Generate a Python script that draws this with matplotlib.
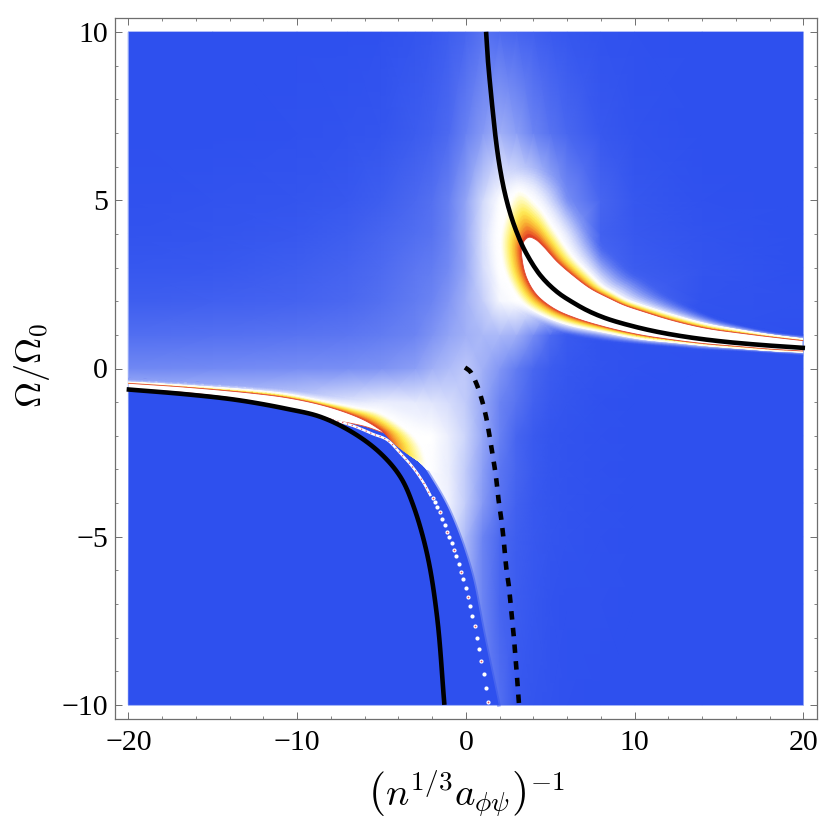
import numpy as np
import matplotlib
matplotlib.use("Agg")
import matplotlib.pyplot as plt
from matplotlib.colors import LinearSegmentedColormap
from matplotlib.ticker import MultipleLocator

plt.rcParams['font.family'] = ['Liberation Serif', 'DejaVu Serif']
plt.rcParams['mathtext.fontset'] = 'cm'

# ---- diffuse background (0 = deep blue, 1 = white)
grid_x = [-20,-15,-10,-7,-5,-3,-2,-1,0,1,2,3,4,5,6,8,10,14,20]
grid_y = [10,7,5,4,3,2,1,0,-1,-2,-3,-4,-5,-7,-10]
row_p10 = [0,0,0,0,.01,.03,.05,.08,.12,.2,.15,.12,.09,.06,.04,.02,.01,0,0]
row_p7  = [0,0,.01,.02,.03,.07,.1,.15,.28,.42,.55,.45,.3,.2,.13,.05,.02,0,0]
row_p5  = [.01,.02,.03,.05,.08,.14,.18,.28,.48,.78,1,1,.9,.6,.35,.12,.04,.01,0]
row_p4  = [.02,.03,.05,.08,.12,.17,.2,.3,.5,.82,1,1,1,1,.7,.1,.05,.02,0]
row_p3  = [.04,.05,.08,.11,.15,.22,.25,.33,.5,.8,1,1,1,1,.9,.15,.07,.03,0]
row_p2  = [.08,.09,.11,.14,.18,.25,.3,.4,.55,.72,.95,1,1,1,.9,.35,.15,.02,.01]
row_p1  = [.17,.18,.2,.22,.25,.3,.38,.48,.55,.6,.6,.55,.35,.15,.06,.02,.01,.01,0]
row_0   = [.32,.33,.35,.36,.38,.45,.55,.62,.68,.55,.4,.25,.13,.07,.04,.02,.01,0,0]
row_m1  = [.7,.7,.75,.85,.9,.88,.85,.8,.7,.5,.3,.2,.1,.05,.03,.01,0,0,0]
row_m2  = [1,1,1,1,1,1,1,.9,.75,.5,.28,.12,.06,.03,.02,.01,0,0,0]
row_m3  = [1,1,1,1,1,1,.97,.9,.7,.45,.22,.12,.06,.03,.02,.01,0,0,0]
row_m4  = [1,1,1,1,1,1,1,.92,.7,.42,.2,.1,.05,.03,.02,.01,0,0,0]
row_m5  = [.9,.9,.9,.9,.9,.9,.9,.9,.6,.3,.14,.08,.05,.03,.02,.01,0,0,0]
row_m7  = [.5,.5,.5,.5,.5,.5,.5,.5,.5,.3,.12,.07,.04,.02,.01,.01,0,0,0]
row_m10 = [.3,.3,.3,.3,.3,.3,.3,.3,.3,.3,.18,.05,.03,.02,.01,0,0,0,0]

# ---- upper right lobe: stations from the lower tail round the apex to the upper tail
ur_core_x = [19.96,18.2,16.27,14.3,12.3,10.34,8.37,6.39,5.2,4.22,3.66,3.37,3.33,3.72,4.12,4.61,5.4,6.39,7.38,8.37,9.35,10.34,12.3,14.3,16.27,18.2,19.96]
ur_core_y = [.52,.57,.65,.73,.85,1.0,1.22,1.52,1.79,2.18,2.63,3.13,3.67,3.9,3.84,3.62,3.18,2.75,2.38,2.12,1.89,1.72,1.42,1.19,1.05,.93,.83]
ur_warm_x = [19.96,18.2,16.27,14.3,12.3,10.34,8.2,6.1,4.7,3.5,2.75,2.2,2.15,3.1,4.2,5.2,6.3,7.4,8.1,8.7,9.5,10.34,12.3,14.3,16.27,18.2,19.96]
ur_warm_y = [.49,.53,.6,.68,.78,.88,1.08,1.3,1.55,1.9,2.4,3.13,4.1,5.25,4.85,4.15,3.35,2.78,2.45,2.27,2.05,1.9,1.59,1.32,1.14,.99,.88]
ur_halo_x = [19.96,18.2,16.27,14.3,12.3,10.34,7.9,5.7,4.2,3.0,2.0,1.3,1.05,3.0,5.3,6.5,7.5,9.0,9.9,10.6,11.3,12.0,13.6,15.0,16.8,18.4,19.96]
ur_halo_y = [.36,.42,.48,.52,.6,.68,.8,1.02,1.4,1.75,2.2,2.9,4.1,6.0,5.8,4.8,4.0,3.3,2.9,2.7,2.45,2.2,1.8,1.5,1.26,1.1,1.02]

# ---- lower left lobe
ll_core_x = [-19.98,-16.5,-12.6,-10.6,-8.6,-7.0,-5.85,-4.96,-4.3,-3.48,-2.71]
ll_core_y = [-.44,-.56,-.74,-.87,-1.08,-1.33,-1.58,-1.86,-2.2,-2.52,-2.77]
ll_warm_x = [-19.98,-16.5,-12.6,-10.6,-8.6,-6.6,-5.07,-3.29,-2.7,-2.4,-2.3]
ll_warm_y = [-.41,-.51,-.65,-.76,-.95,-1.15,-1.33,-1.93,-2.3,-2.72,-3.0]
ll_halo_x = [-19.98,-16.5,-12.6,-10.6,-8.6,-6.3,-4.4,-2.5,-1.6,-1.1,-1.0]
ll_halo_y = [-.29,-.39,-.5,-.58,-.72,-.9,-1.0,-1.5,-2.1,-2.8,-3.2]
ll_fade = [0,0,0,0,0,0,0,0,.12,.45,1]
ll_core_low_x = [-4.96,-6.0,-7.6,-8.6,-10.6,-13.5,-16.5,-19.98]
ll_core_low_y = [-1.9,-1.72,-1.55,-1.42,-1.17,-.9,-.72,-.6]

# ---- deep blue wedge lower left
wedge_x = [-19.98,-16.5,-13.5,-10.6,-8.6,-7.6,-6.0,-4.96,-4.3,-3.48,-2.71,-1.92,-1.13,-.53,-.04,.45,1.06,1.95]
wedge_y = [-.6,-.72,-.9,-1.17,-1.42,-1.55,-1.72,-1.9,-2.15,-2.42,-2.77,-3.36,-4.06,-4.75,-5.44,-6.29,-7.87,-10]

# ---- white resonance line with dots
ridge_x = [-7.9,-6.6,-5.5,-4.67,-3.88,-3.09,-2.49,-2.11]
ridge_y = [-1.52,-1.72,-1.95,-2.12,-2.52,-2.97,-3.41,-3.76]
dots_x = [-1.95,-1.85,-1.7,-1.55,-1.4,-1.25,-1.09,-.98,-.84,-.69,-.57,-.42,-.27,-.17,-.01,.11,.25,.39,.52,.68,.8,.92,1.06,1.2,1.33]
dots_y = [-3.85,-3.97,-4.12,-4.28,-4.48,-4.65,-4.85,-5.02,-5.2,-5.39,-5.58,-5.82,-6.04,-6.26,-6.53,-6.8,-7.07,-7.37,-7.67,-8.0,-8.34,-8.71,-9.09,-9.5,-9.92]

# ---- black curves
upper_x = [1.2,1.3,1.44,1.6,1.77,1.99,2.29,2.66,3.08,3.5,4.4,5.4,6.39,7.3,8.37,9.8,11.35,13.2,15.26,17.5,20.1]
upper_y = [10.01,9.22,8.43,7.63,6.84,6.05,5.26,4.56,3.97,3.5,2.78,2.28,1.95,1.7,1.48,1.27,1.09,.93,.8,.7,.61]
lower_x = [-20.1,-16.5,-13.5,-10.6,-8.6,-6.65,-5.06,-3.88,-3.11,-2.28,-1.7,-1.27]
lower_y = [-.62,-.77,-.94,-1.2,-1.44,-1.92,-2.52,-3.22,-4.08,-5.55,-7.4,-10.0]
dash_x = [-.05,.26,.66,.97,1.21,1.39,1.55,1.71,1.84,1.94,2.08,2.2,2.3,2.4,2.54,2.64,2.74,2.84,2.92,3.0,3.07,3.15]
dash_y = [.03,-.09,-.49,-.97,-1.46,-1.96,-2.45,-2.95,-3.44,-3.91,-4.4,-4.9,-5.4,-5.94,-6.43,-6.93,-7.44,-7.95,-8.44,-8.94,-9.44,-9.98]

x_major = [-20,-10,0,10,20]
y_major = [-10,-5,0,5,10]

DEEP = (46/255, 80/255, 238/255)
base_cmap = LinearSegmentedColormap.from_list('b', [DEEP, (1, 1, 1)])
warm_cmap = LinearSegmentedColormap.from_list('w', [
    (0.0, (.85, .2, .15)), (0.12, (.94, .40, .16)), (0.32, (.98, .70, .20)),
    (0.55, (1.0, .92, .32)), (0.8, (1.0, .98, .70)), (1.0, (1, 1, 1))])

field = np.array([row_p10,row_p7,row_p5,row_p4,row_p3,row_p2,row_p1,row_0,row_m1,row_m2,row_m3,row_m4,row_m5,row_m7,row_m10])
gx = np.array(grid_x, float)
gy = np.array(grid_y, float)[::-1]
gf = field[::-1]


def base_at(x, y):
    """Lightness of the background table under a mesh vertex."""
    i = np.clip(np.searchsorted(gx, x) - 1, 0, len(gx) - 2)
    j = np.clip(np.searchsorted(gy, y) - 1, 0, len(gy) - 2)
    u = (x - gx[i]) / (gx[i + 1] - gx[i])
    v = (y - gy[j]) / (gy[j + 1] - gy[j])
    return (gf[j, i]*(1-u)*(1-v) + gf[j, i+1]*u*(1-v) + gf[j+1, i]*(1-u)*v + gf[j+1, i+1]*u*v)


def dense(x, y, k=8):
    """Draw a smooth path through the read points (Hermite segments on pixel-like scale)."""
    x = np.asarray(x, float)
    y = np.asarray(y, float)
    d = np.sqrt(np.hypot(np.diff(x)*16.9, np.diff(y)*33.65)) + 1e-6
    def tan(p):
        m = np.diff(p) / d
        t = np.zeros_like(p)
        t[1:-1] = (m[:-1]*d[1:] + m[1:]*d[:-1]) / (d[:-1] + d[1:])
        t[0], t[-1] = m[0], m[-1]
        return t
    tx, ty = tan(x), tan(y)
    ox, oy = [], []
    for i in range(len(x) - 1):
        s = np.linspace(0, 1, k, endpoint=False)
        h00 = 2*s**3 - 3*s**2 + 1
        h10 = s**3 - 2*s**2 + s
        h01 = -2*s**3 + 3*s**2
        h11 = s**3 - s**2
        ox.append(h00*x[i] + h10*d[i]*tx[i] + h01*x[i+1] + h11*d[i]*tx[i+1])
        oy.append(h00*y[i] + h10*d[i]*ty[i] + h01*y[i+1] + h11*d[i]*ty[i+1])
    return np.r_[np.concatenate(ox), x[-1]], np.r_[np.concatenate(oy), y[-1]]


def warm_strip(ax, ix, iy, ox, oy, fade=None, z=4, n=13):
    ax1, ay1 = dense(ix, iy)
    ax2, ay2 = dense(ox, oy)
    t = np.linspace(0, 1, n)[:, None]
    X = ax1 + t*(ax2-ax1)
    Y = ay1 + t*(ay2-ay1)
    C = np.tile(t, (1, len(ax1)))
    if fade is not None:
        f = np.interp(np.linspace(0, len(fade)-1, len(ax1)), np.arange(len(fade)), fade)
        C = C + (1-C)*f
    ax.pcolormesh(X, Y, C, shading='gouraud', cmap=warm_cmap, vmin=0, vmax=1, zorder=z)


def halo_strip(ax, ix, iy, ox, oy, z=3, n=13):
    ax1, ay1 = dense(ix, iy)
    ax2, ay2 = dense(ox, oy)
    t = np.linspace(0, 1, n)[:, None]
    X = ax1 + t*(ax2-ax1)
    Y = ay1 + t*(ay2-ay1)
    b = base_at(X, Y)
    C = b + (1-b)*(1-t)**1.6
    ax.pcolormesh(X, Y, C, shading='gouraud', cmap=base_cmap, vmin=0, vmax=1, zorder=z)


fig = plt.figure(figsize=(8.32, 8.33), dpi=100)
W, H = 832, 833
ax = fig.add_axes([115/W, 1-719/H, 702/W, 701/H])
ax.set_xlim(-20.79, 20.81)
ax.set_ylim(-10.42, 10.42)

ax.pcolormesh(gx, gy, gf, shading='gouraud', cmap=base_cmap, vmin=0, vmax=1, zorder=1)
ax.plot([-20, -20, 20, 20], [10, -10, -10, 10], color=(.62, .69, .97), lw=.6, zorder=1.1)

# deep blue wedge
wx, wy = dense(wedge_x, wedge_y)
ax.fill(np.r_[-20, wx], np.r_[-10, wy], color=DEEP, lw=0, zorder=2)
ex, ey = dense(wedge_x[7:], wedge_y[7:])
ax.plot(ex, ey, color=DEEP, alpha=.45, lw=2.6, zorder=2)

# halos and warm bands
halo_strip(ax, ur_warm_x, ur_warm_y, ur_halo_x, ur_halo_y)
halo_strip(ax, ll_warm_x, ll_warm_y, ll_halo_x, ll_halo_y)
warm_strip(ax, ur_core_x, ur_core_y, ur_warm_x, ur_warm_y)
warm_strip(ax, ll_core_x, ll_core_y, ll_warm_x, ll_warm_y, fade=ll_fade)

# white cores
RED = (.88, .28, .18)
ux, uy = dense(ur_core_x, ur_core_y)
ax.fill(ux, uy, color='white', lw=0, zorder=5)
ax.plot(ux, uy, color=RED, lw=.6, zorder=5)
ax1_x, ax1_y = dense(ll_core_x[:8], ll_core_y[:8])
ax2_x, ax2_y = dense(ll_core_low_x, ll_core_low_y)
ll_x = np.r_[ax1_x, ax2_x]
ll_y = np.r_[ax1_y, ax2_y]
ax.fill(ll_x, ll_y, color='white', lw=0, zorder=5)
ax.plot(ll_x, ll_y, color=RED, lw=.6, zorder=5)

# resonance ridge
rx, ry = dense(ridge_x, ridge_y)
ax.plot(rx, ry, color='white', lw=1.8, zorder=5)
ax.plot(rx, ry, color=(.9, .35, .4), lw=.9, ls=(0, (1, 3)), zorder=5)
ax.scatter(dots_x, dots_y, s=9, color='white', lw=0, zorder=5)
ax.scatter(dots_x[::3], dots_y[::3], s=1.5, color=(.9, .3, .4), lw=0, zorder=5)

# black curves
LW = 3.3
ax.plot(*dense(upper_x, upper_y), color='k', lw=LW, solid_capstyle='butt', zorder=6)
ax.plot(*dense(lower_x, lower_y), color='k', lw=LW, solid_capstyle='butt', zorder=6)
ax.plot(*dense(dash_x, dash_y), color='k', lw=LW, ls=(0, (1.85, 1.8)), zorder=6)

# frame and ticks
gray = '#6e6e6e'
for s in ax.spines.values():
    s.set_color(gray)
    s.set_linewidth(.9)
    s.set_zorder(10)
ax.set_xticks(x_major)
ax.set_yticks(y_major)
ax.xaxis.set_minor_locator(MultipleLocator(2))
ax.yaxis.set_minor_locator(MultipleLocator(1))
ax.tick_params(which='major', direction='in', length=5, width=.7, color=gray, top=True, right=True,
               labelsize=21.5, pad=5)
ax.tick_params(which='minor', direction='in', length=2.5, width=.6, color=gray, top=True, right=True)
ax.tick_params(axis='x', which='major', pad=8)

ax.set_xlabel(r'$\left(n^{1/3}a_{\phi\psi}\right)^{-1}$', fontsize=28)
ax.set_ylabel(r'$\Omega/\Omega_0$', fontsize=26)
ax.xaxis.set_label_coords(0.5, -0.07, transform=ax.transAxes)
ax.xaxis.label.set_verticalalignment('top')
ax.yaxis.set_label_coords(-0.118, 0.505, transform=ax.transAxes)
ax.yaxis.label.set_verticalalignment('center')

fig.savefig('out.png', dpi=100)
